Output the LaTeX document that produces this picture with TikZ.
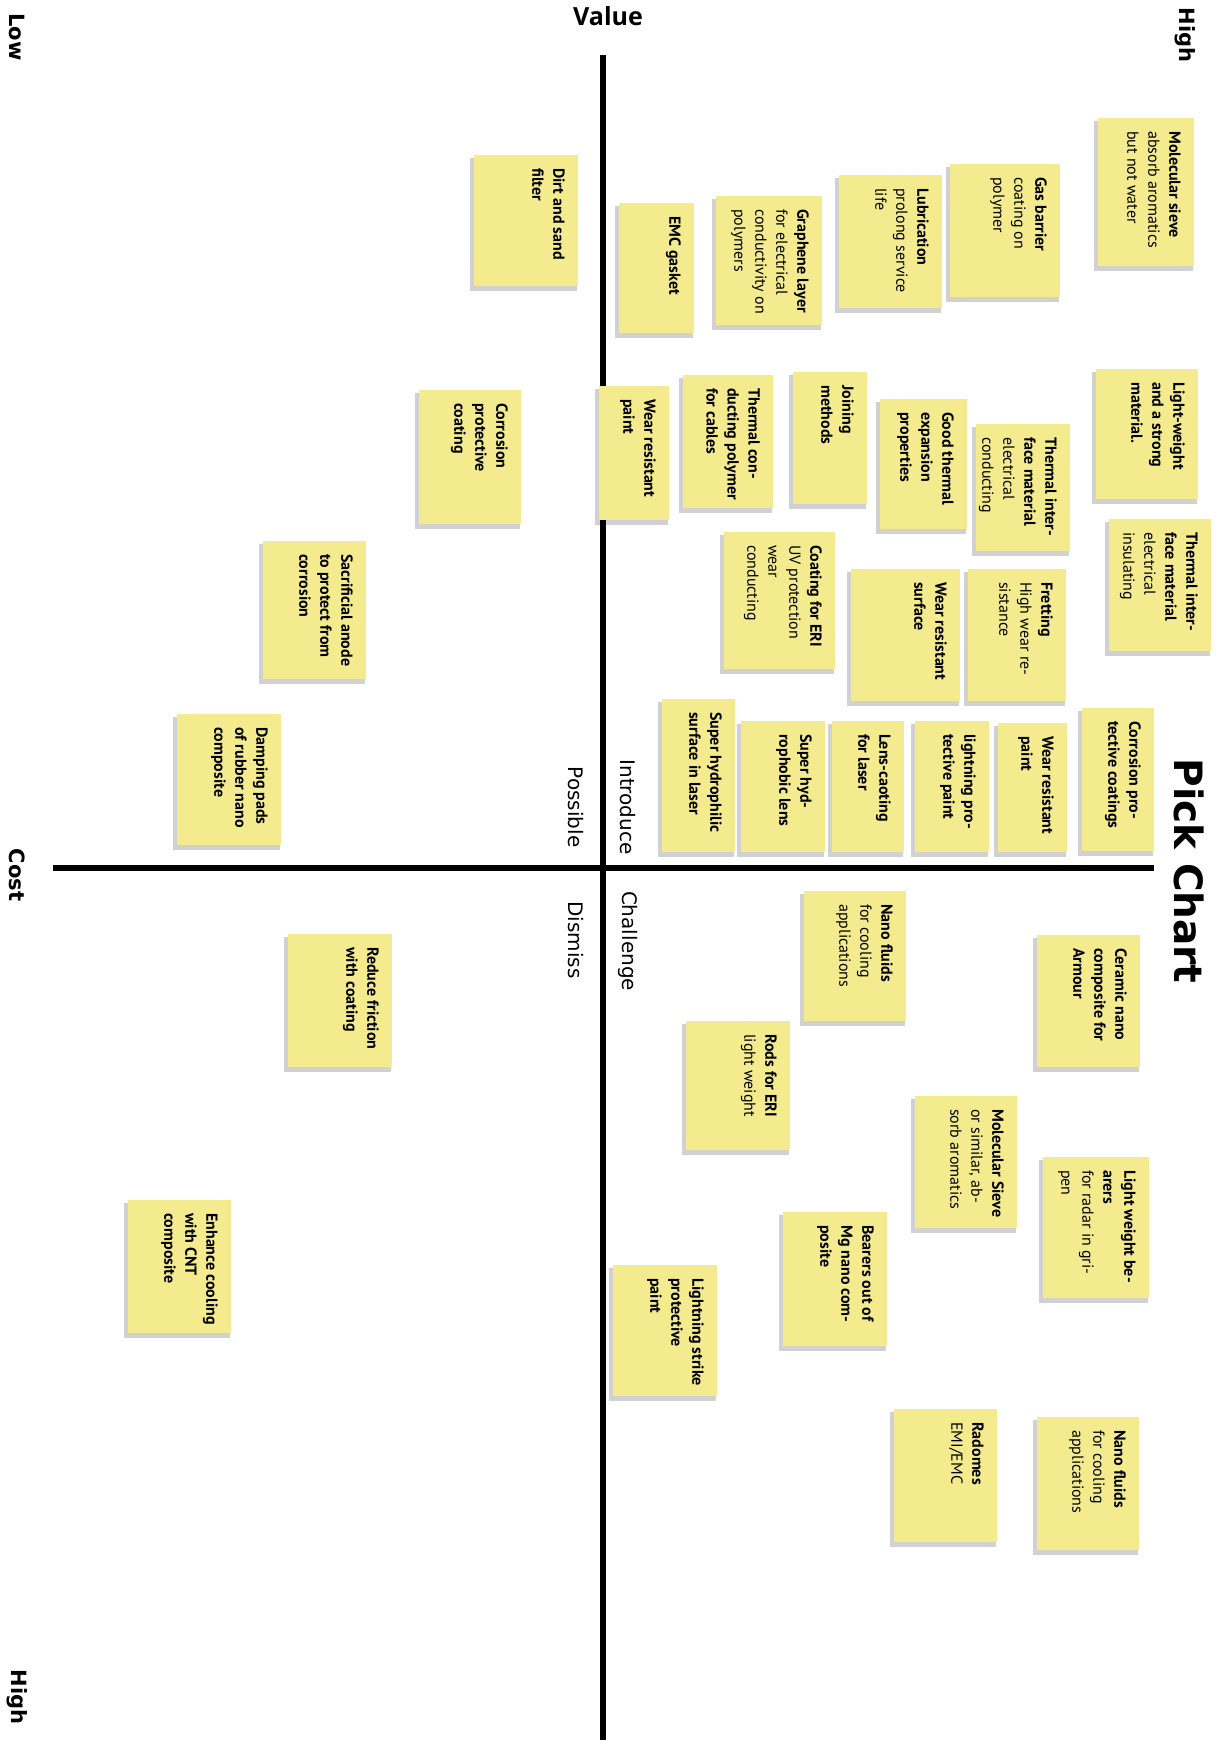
\documentclass[tikz,border=0pt]{standalone}
\usepackage{fontspec}
\newfontfamily\notefont{PT Sans}
\newfontfamily\labfont{DejaVu Sans}
\newfontfamily\quadfont{Open Sans}
\definecolor{noteyellow}{HTML}{F4EB8F}
\tikzset{
  axisline/.style={line width=5.5pt, black},
  notefill/.style={fill=noteyellow},
  noteshadow/.style={fill=black, opacity=0.18},
  notetext/.style={rotate=-90, anchor=north west, inner sep=0pt, align=left,
    font=\notefont\fontsize{16}{21}\selectfont, text=black},
  cornerlab/.style={rotate=-90, inner sep=0pt, font=\labfont\bfseries\fontsize{21}{25}\selectfont},
  quadlab/.style={rotate=-90, inner sep=0pt, font=\labfont\fontsize{20}{24}\selectfont},
  titlelab/.style={rotate=-90, inner sep=0pt, font=\labfont\bfseries\fontsize{39}{44}\selectfont},
  valuelab/.style={inner sep=0pt, font=\quadfont\bfseries\fontsize{25}{30}\selectfont},
}
\newcommand\stickynote[6]{%
  \fill[noteshadow] (#2-4,#3+3) rectangle (#4-1,#5+5);
  \fill[notefill] (#2,#3) rectangle (#4,#5);
  \node[notetext] (#1) at (#4-13,#3+13) {#6};
}
\begin{document}
\begin{tikzpicture}[x=1pt,y=-1pt]
\fill[white] (0,0) rectangle (1218,1740);
\useasboundingbox (0,0) rectangle (1218,1740);

% axes
\coordinate (vtop) at (603,55);
\coordinate (vbot) at (603,1740);
\coordinate (hleft) at (53,868);
\coordinate (hright) at (1154,868);
\draw[axisline] (vtop) -- (vbot);
\draw[axisline] (hleft) -- (hright);

% labels
\node[valuelab] (value) at (608,16) {Value};
\node[cornerlab] (low) at (17,37) {Low};
\node[cornerlab] (hightop) at (1185,35) {High};
\node[cornerlab] (cost) at (17,875) {Cost};
\node[cornerlab] (highbot) at (17,1697) {High};
\node[titlelab] (pick) at (1189,871) {Pick Chart};
\node[quadlab] (introduce) at (628,807) {Introduce};
\node[quadlab] (possible) at (576,807) {Possible};
\node[quadlab] (challenge) at (628,941) {Challenge};
\node[quadlab] (dismiss) at (576,940) {Dismiss};

% notes
\stickynote{emc}{619}{203}{694}{333}{\textbf{EMC gasket}}
\stickynote{graphene}{716}{196}{822}{325}{\textbf{Graphene layer}\\for electrical\\conductivity on\\polymers}
\stickynote{lubrication}{839}{175}{942}{308}{\textbf{Lubrication}\\prolong service\\life}
\stickynote{gas}{950}{164}{1060}{297}{\textbf{Gas barrier}\\coating on\\polymer}
\stickynote{molsieve}{1098}{118}{1194}{266}{\textbf{Molecular sieve}\\absorb aromatics\\but not water}
\stickynote{dirt}{474}{155}{578}{286}{\textbf{Dirt and sand}\\\textbf{filter}}
\stickynote{corrcoat}{419}{390}{521}{524}{\textbf{Corrosion}\\\textbf{protective}\\\textbf{coating}}
\stickynote{sacrificial}{263}{541}{366}{679}{\textbf{Sacrificial anode}\\\textbf{to protect from}\\\textbf{corrosion}}
\stickynote{damping}{177}{714}{281}{845}{\textbf{Damping pads}\\\textbf{of rubber nano}\\\textbf{composite}}
\stickynote{wearpaint}{599}{386}{669}{520}{\textbf{Wear resistant}\\\textbf{paint}}
\stickynote{thermcable}{683}{375}{773}{508}{\textbf{Thermal con-}\\\textbf{ducting polymer}\\\textbf{for cables}}
\stickynote{joining}{793}{372}{867}{504}{\textbf{Joining}\\\textbf{methods}}
\stickynote{goodtherm}{880}{399}{967}{529}{\textbf{Good thermal}\\\textbf{expansion}\\\textbf{properties}}
\stickynote{timcond}{976}{424}{1070}{551}{\textbf{Thermal inter-}\\\textbf{face material}\\electrical\\conducting}
\stickynote{lightstrong}{1096}{369}{1198}{499}{\textbf{Light-weight}\\\textbf{and a strong}\\\textbf{material.}}
\stickynote{timins}{1109}{519}{1211}{651}{\textbf{Thermal inter-}\\\textbf{face material}\\electrical\\insulating}
\stickynote{coateri}{724}{532}{835}{669}{\textbf{Coating for ERI}\\UV protection\\wear\\conducting}
\stickynote{wearsurf}{851}{569}{960}{701}{\textbf{Wear resistant}\\\textbf{surface}}
\stickynote{fretting}{968}{569}{1066}{701}{\textbf{Fretting}\\High wear re-\\sistance}
\stickynote{hydrophilic}{662}{699}{735}{852}{\textbf{Super hydrophilic}\\\textbf{surface in laser}}
\stickynote{hydrophobic}{741}{721}{825}{852}{\textbf{Super hyd-}\\\textbf{rophobic lens}}
\stickynote{lens}{832}{721}{904}{852}{\textbf{Lens-caoting}\\\textbf{for laser}}
\stickynote{lightpaint}{915}{721}{989}{852}{\textbf{lightning pro-}\\\textbf{tective paint}}
\stickynote{wearpainttwo}{998}{723}{1067}{852}{\textbf{Wear resistant}\\\textbf{paint}}
\stickynote{corrcoattwo}{1082}{708}{1154}{851}{\textbf{Corrosion pro-}\\\textbf{tective coatings}}
\stickynote{nanoone}{804}{891}{906}{1021}{\textbf{Nano fluids}\\for cooling\\applications}
\stickynote{ceramic}{1037}{935}{1140}{1067}{\textbf{Ceramic nano}\\\textbf{composite for}\\\textbf{Armour}}
\stickynote{rods}{686}{1021}{790}{1150}{\textbf{Rods for ERI}\\light weight}
\stickynote{molsievetwo}{915}{1096}{1017}{1228}{\textbf{Molecular Sieve}\\or similar, ab-\\sorb aromatics}
\stickynote{bearersone}{1043}{1157}{1149}{1298}{\textbf{Light weight be-}\\\textbf{arers}\\for radar in gri-\\pen}
\stickynote{bearerstwo}{783}{1212}{887}{1346}{\textbf{Bearers out of}\\\textbf{Mg nano com-}\\\textbf{posite}}
\stickynote{lightstrike}{613}{1265}{717}{1396}{\textbf{Lightning strike}\\\textbf{protective}\\\textbf{paint}}
\stickynote{radomes}{894}{1409}{997}{1542}{\textbf{Radomes}\\EMI/EMC}
\stickynote{nanotwo}{1037}{1417}{1139}{1550}{\textbf{Nano fluids}\\for cooling\\applications}
\stickynote{friction}{288}{934}{392}{1067}{\textbf{Reduce friction}\\\textbf{with coating}}
\stickynote{cnt}{128}{1200}{231}{1333}{\textbf{Enhance cooling}\\\textbf{with CNT}\\\textbf{composite}}
\end{tikzpicture}
\end{document}
